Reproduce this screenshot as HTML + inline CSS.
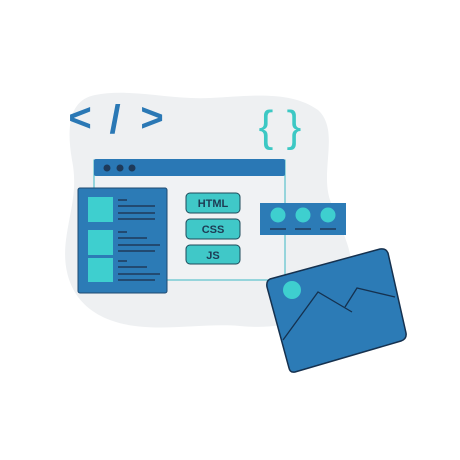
<!DOCTYPE html>
<html><head><meta charset="utf-8"><style>
html,body{margin:0;padding:0;background:#fff;width:460px;height:460px;overflow:hidden}
svg{display:block}
</style></head><body>
<svg width="460" height="460" viewBox="0 0 460 460" xmlns="http://www.w3.org/2000/svg">
<path d="M95 95 C130 88 170 100 210 98 C250 96 290 90 318 110 C340 130 320 170 330 200 C345 240 360 260 345 290 C325 320 280 330 240 326 C200 322 150 335 110 320 C70 305 62 270 66 240 C70 210 78 190 72 160 C66 125 70 100 95 95 Z" fill="#eef0f2"/>
<g font-family="Liberation Sans, sans-serif" font-weight="bold" font-size="40" fill="#2a78b5" text-anchor="middle">
<text x="80" y="131" transform="scale(1,1)">&lt;</text>
<text x="115" y="133">/</text>
<text x="152" y="131">&gt;</text>
</g>
<g font-family="Liberation Sans, sans-serif" font-size="44" fill="#3cc8c4" text-anchor="middle">
<text x="266" y="141">{</text>
<text x="294" y="141">}</text>
</g>
<rect x="94" y="160" width="191" height="120" fill="#f0f2f4" stroke="#3cb8c4" stroke-width="1"/>
<rect x="94" y="159" width="191" height="17" rx="2" fill="#2a78b5"/>
<circle cx="107" cy="168" r="3.5" fill="#1e3a5a"/>
<circle cx="120" cy="168" r="3.5" fill="#1e3a5a"/>
<circle cx="132" cy="168" r="3.5" fill="#1e3a5a"/>
<rect x="78" y="188" width="89" height="105" rx="2" fill="#2c7bb6" stroke="#1e4a70" stroke-width="1"/>
<g fill="#3ecfcf"><rect x="88" y="197" width="25" height="25"/><rect x="88" y="230" width="25" height="25"/><rect x="88" y="258" width="25" height="24"/></g>
<g stroke="#1e3a5a" stroke-width="1.5">
<line x1="118" y1="200" x2="127" y2="200"/><line x1="118" y1="206" x2="155" y2="206"/><line x1="118" y1="213" x2="155" y2="213"/><line x1="118" y1="219" x2="155" y2="219"/>
<line x1="118" y1="232" x2="127" y2="232"/><line x1="118" y1="238" x2="147" y2="238"/><line x1="118" y1="245" x2="160" y2="245"/><line x1="118" y1="251" x2="155" y2="251"/>
<line x1="118" y1="261" x2="127" y2="261"/><line x1="118" y1="267" x2="147" y2="267"/><line x1="118" y1="274" x2="160" y2="274"/><line x1="118" y1="280" x2="155" y2="280"/>
</g>
<g fill="#40c8c8" stroke="#1e4a5a" stroke-width="1">
<rect x="186" y="193" width="54" height="20" rx="4"/><rect x="186" y="219" width="54" height="20" rx="4"/><rect x="186" y="245" width="54" height="19" rx="4"/>
</g>
<g font-family="Liberation Sans, sans-serif" font-weight="bold" font-size="11" fill="#1d3b54" text-anchor="middle">
<text x="213" y="207">HTML</text><text x="213" y="233">CSS</text><text x="213" y="259">JS</text>
</g>
<rect x="260" y="203" width="86" height="32" fill="#2c7bb6"/>
<g fill="#3ecfcf"><circle cx="278" cy="215" r="7.5"/><circle cx="303" cy="215" r="7.5"/><circle cx="328" cy="215" r="7.5"/></g>
<g stroke="#1e3a5a" stroke-width="1.5"><line x1="270" y1="229" x2="286" y2="229"/><line x1="295" y1="229" x2="311" y2="229"/><line x1="320" y1="229" x2="336" y2="229"/></g>
<path d="M270 279 L380 249 Q386 248 388 253 L406 333 Q407 339 401 341 L295 372 Q290 373 289 368 L267 287 Q266 281 270 279 Z" fill="#2c7bb6" stroke="#15314f" stroke-width="1.5"/>
<circle cx="292" cy="290" r="9" fill="#3ecfcf"/>
<polyline points="283,340 318,292 352,312" fill="none" stroke="#15314f" stroke-width="1.3"/>
<polyline points="345,307 357,288 395,297" fill="none" stroke="#15314f" stroke-width="1.3"/>
</svg>
</body></html>
